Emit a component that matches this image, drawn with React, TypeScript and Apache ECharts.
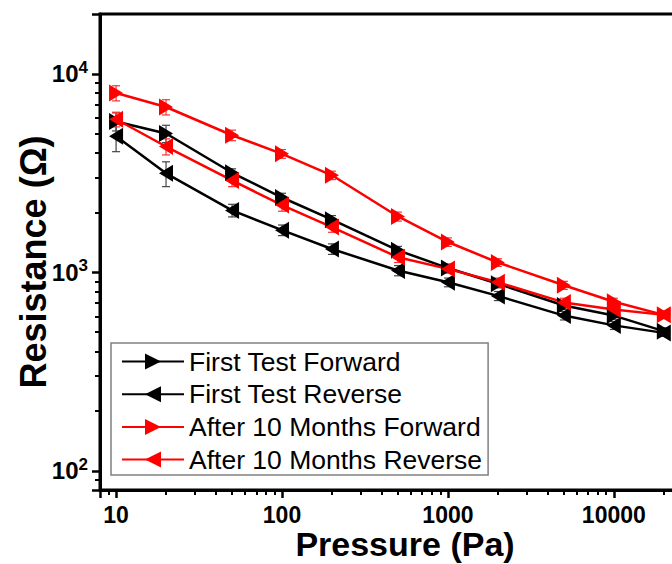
import { useEffect, useRef } from 'react';
import * as echarts from 'echarts';

// Applied pressure (Pa)
const pressure = [10, 20, 50, 100, 200, 500, 1000, 2000, 5000, 10000, 20000];

// Resistance (Ohm) for each run
const firstForward = [5750, 5000, 3170, 2380, 1840, 1290, 1050, 875, 680, 605, 505];
const firstReverse = [4850, 3150, 2050, 1630, 1310, 1020, 890, 760, 605, 540, 495];
const agedForward = [8000, 6800, 4900, 3950, 3080, 1910, 1420, 1120, 860, 710, 610];
const agedReverse = [5900, 4300, 2900, 2180, 1690, 1190, 1040, 890, 705, 650, 610];

// Standard deviation of each measurement (Ohm)
const firstForwardErr = [600, 500, 150, 120, 90, 60, 50, 40, 30, 25, 20];
const firstReverseErr = [800, 450, 150, 100, 80, 60, 45, 40, 30, 25, 20];
const agedForwardErr = [700, 600, 300, 200, 150, 100, 70, 50, 40, 30, 25];
const agedReverseErr = [500, 400, 200, 150, 100, 70, 50, 45, 35, 30, 25];

// Axis ranges and the intermediate (minor) log ticks
const X_MIN = 8;
const X_MAX = 30000;
const Y_MIN = 80;
const Y_MAX = 20000;
const xMinorTicks = [
  9, 20, 30, 40, 50, 60, 70, 80, 90, 200, 300, 400, 500, 600, 700, 800, 900,
  2000, 3000, 4000, 5000, 6000, 7000, 8000, 9000, 20000,
];
const yMinorTicks = [
  90, 200, 300, 400, 500, 600, 700, 800, 900, 2000, 3000, 4000, 5000, 6000, 7000, 8000, 9000,
];

const seriesNames = [
  'First Test Forward',
  'First Test Reverse',
  'After 10 Months Forward',
  'After 10 Months Reverse',
];

const FONT = '"Liberation Sans", Arial, Helvetica, sans-serif';
const RIGHT_TRI = 'path://M0,0L12,7L0,14Z';
const LEFT_TRI = 'path://M12,0L0,7L12,14Z';

const isDecade = (v: number) => {
  const l = Math.log10(v);
  return Math.abs(l - Math.round(l)) < 1e-6;
};

function lineSeries(name: string, values: number[], color: string, symbol: string) {
  return {
    type: 'line',
    name,
    xAxisIndex: 0,
    yAxisIndex: 0,
    data: pressure.map((p, i) => [p, values[i]]),
    symbol,
    symbolSize: [14, 17],
    showAllSymbol: true,
    z: 3,
    lineStyle: { color, width: 2.5 },
    itemStyle: { color },
  };
}

function errorSeries(values: number[], errs: number[], color: string) {
  return {
    type: 'custom',
    xAxisIndex: 0,
    yAxisIndex: 0,
    data: pressure.map((p, i) => [p, values[i], errs[i]]),
    encode: { x: 0, y: 1 },
    z: 2,
    silent: true,
    renderItem: (_params: any, api: any) => {
      const x = api.value(0);
      const v = api.value(1);
      const e = api.value(2);
      const hi = api.coord([x, v + e]);
      const lo = api.coord([x, v - e]);
      const w = 4;
      const style = { stroke: color, lineWidth: 1.2 };
      return {
        type: 'group',
        children: [
          { type: 'line', shape: { x1: hi[0], y1: hi[1], x2: lo[0], y2: lo[1] }, style },
          { type: 'line', shape: { x1: hi[0] - w, y1: hi[1], x2: hi[0] + w, y2: hi[1] }, style },
          { type: 'line', shape: { x1: lo[0] - w, y1: lo[1], x2: lo[0] + w, y2: lo[1] }, style },
        ],
      };
    },
  };
}

export default function App() {
  const ref = useRef<HTMLDivElement>(null);

  useEffect(() => {
    if (!ref.current) return;
    const chart = echarts.init(ref.current, null, { renderer: 'svg' });

    const axisCommon = {
      axisLine: { lineStyle: { color: '#000', width: 3 } },
      axisTick: { length: 8, lineStyle: { color: '#000', width: 2.5 } },
      minorTick: { show: false },
      splitLine: { show: false },
      minorSplitLine: { show: false },
    };

    // Second pair of axes over the same grid, carrying only the short minor ticks
    const minorAxis = (ticks: number[], min: number, max: number, position: string) => ({
      type: 'log',
      logBase: 10,
      min,
      max,
      position,
      gridIndex: 0,
      axisLine: { show: false },
      axisLabel: { show: false },
      splitLine: { show: false },
      minorTick: { show: false },
      axisTick: {
        show: true,
        customValues: ticks,
        length: 5,
        lineStyle: { color: '#000', width: 2 },
      },
    });

    chart.setOption({
      animation: false,
      textStyle: { fontFamily: FONT },
      grid: {
        left: 100,
        top: 14,
        width: 593,
        height: 476,
        show: true,
        borderColor: '#000',
        borderWidth: 3,
        containLabel: false,
        outerBoundsMode: 'none',
      },
      xAxis: [
        {
          type: 'log',
          logBase: 10,
          min: X_MIN,
          max: X_MAX,
          position: 'bottom',
          ...axisCommon,
          axisLabel: {
            formatter: (v: number) => (isDecade(v) ? String(Math.round(v)) : ''),
            fontSize: 23,
            fontWeight: 'bold',
            color: '#000',
            fontFamily: FONT,
            margin: 13,
          },
        },
        minorAxis(xMinorTicks, X_MIN, X_MAX, 'bottom'),
      ],
      yAxis: [
        {
          type: 'log',
          logBase: 10,
          min: Y_MIN,
          max: Y_MAX,
          position: 'left',
          ...axisCommon,
          axisLabel: {
            formatter: (v: number) =>
              isDecade(v) ? `{b|10}{s|${Math.round(Math.log10(v))}}` : '',
            margin: 12,
            rich: {
              b: { fontSize: 24, fontWeight: 'bold', color: '#000', fontFamily: FONT, lineHeight: 30 },
              s: {
                fontSize: 17,
                fontWeight: 'bold',
                color: '#000',
                fontFamily: FONT,
                lineHeight: 17,
                verticalAlign: 'top',
              },
            },
          },
        },
        minorAxis(yMinorTicks, Y_MIN, Y_MAX, 'left'),
      ],
      legend: {
        data: seriesNames,
        orient: 'vertical',
        left: 111,
        top: 343,
        padding: [5, 6, 2, 10],
        itemWidth: 62,
        itemHeight: 20,
        itemGap: 5.7,
        borderColor: '#808080',
        borderWidth: 1.5,
        textStyle: { fontSize: 26.5, color: '#000', fontFamily: FONT },
      },
      graphic: [
        {
          type: 'text',
          x: 33,
          y: 262,
          rotation: Math.PI / 2,
          style: {
            text: 'Resistance (\u03A9)',
            font: `bold 36px ${FONT}`,
            fill: '#000',
            textAlign: 'center',
            textVerticalAlign: 'middle',
          },
        },
        {
          type: 'text',
          x: 405,
          y: 544,
          style: {
            text: 'Pressure (Pa)',
            font: `bold 34px ${FONT}`,
            fill: '#000',
            textAlign: 'center',
            textVerticalAlign: 'middle',
          },
        },
      ],
      series: [
        errorSeries(firstForward, firstForwardErr, '#444'),
        errorSeries(firstReverse, firstReverseErr, '#444'),
        errorSeries(agedForward, agedForwardErr, '#ff3030'),
        errorSeries(agedReverse, agedReverseErr, '#ff3030'),
        lineSeries(seriesNames[0], firstForward, '#000000', RIGHT_TRI),
        lineSeries(seriesNames[1], firstReverse, '#000000', LEFT_TRI),
        lineSeries(seriesNames[2], agedForward, '#ff0000', RIGHT_TRI),
        lineSeries(seriesNames[3], agedReverse, '#ff0000', LEFT_TRI),
      ],
    });

    return () => chart.dispose();
  }, []);

  return (
    <div
      ref={ref}
      style={{ position: 'fixed', left: 0, top: 0, width: 672, height: 564, background: '#fff' }}
    />
  );
}
